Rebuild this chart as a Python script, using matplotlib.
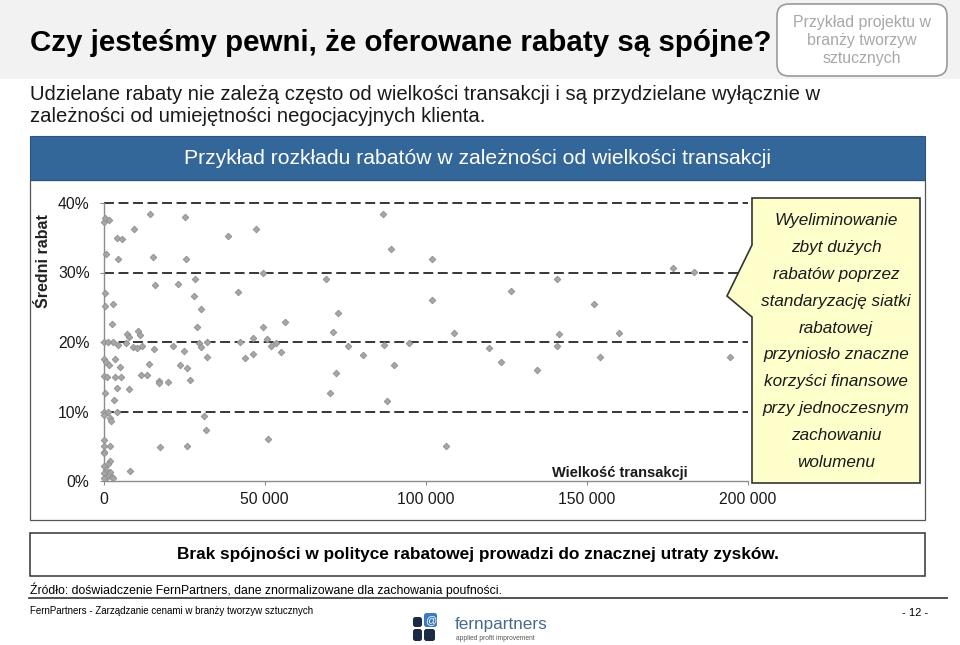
import matplotlib
matplotlib.use("Agg")
import matplotlib.pyplot as plt
from matplotlib.patches import FancyBboxPatch, Rectangle, Polygon
from matplotlib.transforms import Affine2D
from matplotlib.lines import Line2D

plt.rcParams['font.family'] = ['Liberation Sans', 'DejaVu Sans']

# ---------------- data ----------------
transaction_size = [
    300, 400, 1800, 14500, 9500, 4300, 5800, 700, 4600, 15500,
    25200, 38500, 47400, 25700, 49600, 16000, 23100, 500, 500, 2900,
    28300, 28100, 30400, 41700, 2700, 29100, 49600, 7300, 7900, 10600,
    11200, 0, 1300, 2800, 4400, 6900, 9300, 10300, 11900, 15700,
    21700, 24900, 29600, 30200, 32100, 32100, 42500, 43800, 46400, 46300,
    50900, 51900, 53400, 55100, 56500, 200, 700, 3600, 1700, 5000,
    14000, 23800, 25900, 26700, 0, 1000, 3600, 5500, 11700, 13600,
    17100, 17300, 19900, 4300, 8000, 500, 3300, 200, 1400, 4200,
    0, 1900, 2300, 31100, 31900, 300, 0, 2000, 200, 0,
    17600, 25900, 2000, 1500, 0, 8300, 900, 2000, 0, 1000,
    2600, 200, 3100, 51200, 69000, 71400, 72700, 75800, 72200, 70200,
    80600, 86900, 89300, 87200, 90100, 88100, 95000, 102000, 102000, 106200,
    108700, 119600, 123400, 126500, 134700, 140700, 141300, 140900, 152400, 154000,
    159900, 176800, 183400, 194500,
]
avg_discount = [
    37.3, 37.9, 37.5, 38.4, 36.2, 35.0, 34.8, 32.7, 32.0, 32.3,
    38.0, 35.3, 36.2, 32.0, 29.9, 28.2, 28.3, 27.1, 25.2, 25.4,
    29.0, 26.6, 24.7, 27.2, 22.6, 22.1, 22.2, 21.2, 20.7, 21.6,
    21.0, 20.0, 20.0, 20.0, 19.5, 19.8, 19.3, 19.1, 19.4, 19.0,
    19.4, 18.7, 19.9, 19.3, 20.0, 17.8, 20.0, 17.7, 18.3, 20.6,
    20.5, 19.4, 19.8, 18.6, 22.9, 17.5, 17.1, 17.5, 16.7, 16.4,
    16.8, 16.7, 16.3, 14.6, 15.1, 15.0, 15.0, 15.0, 15.2, 15.2,
    14.4, 14.1, 14.2, 13.4, 13.3, 12.7, 11.6, 10.0, 9.9, 9.9,
    9.5, 9.1, 8.7, 9.4, 7.3, 5.9, 5.1, 5.0, 4.2, 4.0,
    4.9, 5.0, 2.9, 2.4, 2.1, 1.4, 1.6, 1.3, 1.1, 0.6,
    0.6, 0.4, 0.4, 6.0, 29.1, 21.5, 24.2, 19.4, 15.5, 12.6,
    18.1, 38.4, 33.4, 19.5, 16.7, 11.5, 19.8, 32.0, 26.0, 5.0,
    21.3, 19.2, 17.1, 27.3, 15.9, 29.1, 21.2, 19.4, 25.4, 17.9,
    21.3, 30.6, 30.1, 17.8,
]
x_ticks = [0, 50000, 100000, 150000, 200000]
x_ticklabels = ['0', '50 000', '100 000', '150 000', '200 000']
y_ticks = [0, 10, 20, 30, 40]
y_ticklabels = ['0%', '10%', '20%', '30%', '40%']

title = 'Czy jesteśmy pewni, że oferowane rabaty są spójne?'
subtitle_lines = ['Udzielane rabaty nie zależą często od wielkości transakcji i są przydzielane wyłącznie w',
                  'zależności od umiejętności negocjacyjnych klienta.']
badge_lines = ['Przykład projektu w', 'branży tworzyw', 'sztucznych']
header = 'Przykład rozkładu rabatów w zależności od wielkości transakcji'
y_label = 'Średni rabat'
x_label = 'Wielkość transakcji'
callout_lines = ['Wyeliminowanie', 'zbyt dużych', 'rabatów poprzez', 'standaryzację siatki',
                 'rabatowej', 'przyniosło znaczne', 'korzyści finansowe', 'przy jednoczesnym',
                 'zachowaniu', 'wolumenu']
conclusion = 'Brak spójności w polityce rabatowej prowadzi do znacznej utraty zysków.'
source = 'Źródło: doświadczenie FernPartners, dane znormalizowane dla zachowania poufności.'
footer = 'FernPartners - Zarządzanie cenami w branży tworzyw sztucznych'
page = '- 12 -'

# ---------------- figure ----------------
W, H = 960, 645
fig = plt.figure(figsize=(9.6, 6.45), dpi=100)
fig.patch.set_facecolor('white')
PX = Affine2D().scale(1, -1).translate(0, H).scale(1 / 100.0) + fig.dpi_scale_trans
renderer = fig.canvas.get_renderer()


def fit(t, target):
    bb = t.get_window_extent(renderer)
    t.set_fontsize(t.get_fontsize() * target / bb.width)
    return t.get_fontsize()


# top grey band
fig.add_artist(Rectangle((0, 0), W, 79, transform=PX, facecolor='#f2f2f2', edgecolor='none', zorder=-5))
t = fig.text(30, 43, title, transform=PX, fontsize=20, fontweight='bold', color='black', va='center', ha='left')
fit(t, 742)

# badge
fig.add_artist(FancyBboxPatch((777, 4), 170, 72, boxstyle='round,pad=0,rounding_size=12', transform=PX,
                              facecolor='white', edgecolor='#9a9a9a', lw=1.2, zorder=1))
bt = fig.text(862, 23, badge_lines[0], transform=PX, fontsize=11, color='#a8a8a8', ha='center', va='center')
bs = fit(bt, 137)
for i, ln in enumerate(badge_lines[1:]):
    fig.text(862, 41 + 18 * i, ln, transform=PX, fontsize=bs, color='#a8a8a8', ha='center', va='center')

# subtitle
st = fig.text(30, 95, subtitle_lines[0], transform=PX, fontsize=14, color='#1a1a1a', ha='left', va='center')
ss = fit(st, 796)
fig.text(30, 117, subtitle_lines[1], transform=PX, fontsize=ss, color='#1a1a1a', ha='left', va='center')

# header bar + chart frame
fig.add_artist(Rectangle((30, 136), 895, 44, transform=PX, facecolor='#336699', edgecolor='#2a5580', lw=0.8, zorder=1))
ht = fig.text(477.5, 158, header, transform=PX, fontsize=13, color='white', ha='center', va='center', zorder=2)
fit(ht, 587)
fig.add_artist(Rectangle((30, 180), 895, 340, transform=PX, facecolor='white', edgecolor='#555555', lw=0.9, zorder=-1))

# y label
fig.text(43, 261, y_label, transform=PX, fontsize=11.5, fontweight='bold', color='#222222',
         rotation=90, ha='center', va='center')

# ---------------- axes ----------------
ax = fig.add_axes([103.5 / W, 1 - 481 / H, (747.7 - 103.5) / W, (481 - 203) / H])
ax.patch.set_alpha(0)
ax.set_xlim(0, 200000)
ax.set_ylim(0, 40)
for yv in y_ticks[1:]:
    ax.axhline(yv, color='black', lw=1.1, linestyle=(0, (6.5, 3.0)), zorder=1, clip_on=False)
ax.plot(transaction_size, avg_discount, linestyle='none', marker='D', ms=3.4,
        mfc='#a6a6a6', mec='#8f8f8f', mew=0.6, clip_on=False, zorder=3)
for s in ['top', 'right']:
    ax.spines[s].set_visible(False)
for s in ['left', 'bottom']:
    ax.spines[s].set_color('#8c8c8c')
    ax.spines[s].set_linewidth(1.0)
ax.set_xticks(x_ticks)
ax.set_xticklabels(x_ticklabels)
ax.set_yticks(y_ticks)
ax.set_yticklabels(y_ticklabels)
ax.tick_params(axis='both', colors='#8c8c8c', labelcolor='#1a1a1a', labelsize=11.3, length=3, width=0.8)
ax.tick_params(axis='y', pad=7)
ax.tick_params(axis='x', pad=5)

fig.text(620, 473, x_label, transform=PX, fontsize=10.5, fontweight='bold', color='#1a1a1a',
         ha='center', va='center')

# callout
fig.add_artist(Polygon([(752, 198), (920, 198), (920, 483), (752, 483), (752, 317), (727, 296), (752, 245)],
                       closed=True, transform=PX, facecolor='#ffffcc', edgecolor='#333333', lw=1.2, zorder=4))
for i, ln in enumerate(callout_lines):
    fig.text(836, 220.5 + 26.9 * i, ln, transform=PX, fontsize=12.3, fontstyle='italic', color='#1a1a1a',
             ha='center', va='center', zorder=5)

# conclusion box
fig.add_artist(Rectangle((30, 533), 895, 43, transform=PX, facecolor='white', edgecolor='#333333', lw=1.1, zorder=1))
ct = fig.text(477.5, 555, conclusion, transform=PX, fontsize=13, fontweight='bold', color='black',
              ha='center', va='center', zorder=2)
fit(ct, 599)

# source + rule
srt = fig.text(30, 590, source, transform=PX, fontsize=10, color='black', ha='left', va='center')
fit(srt, 470)
fig.add_artist(Line2D([29, 947], [598, 598], transform=PX, color='#444444', lw=1.3))
ft = fig.text(30, 611, footer, transform=PX, fontsize=8, color='black', ha='left', va='center')
fit(ft, 288)
fig.text(928, 613, page, transform=PX, fontsize=8, color='black', ha='right', va='center')

# logo
navy = '#1c2b45'
blue = '#3b7bbf'
for (x0, y0, w, h, c) in [(413, 617, 9, 10, navy), (424, 613, 13, 14, blue), (413, 629, 9, 12, navy), (424, 629, 11, 12, navy)]:
    fig.add_artist(FancyBboxPatch((x0, y0), w, h, boxstyle='round,pad=0,rounding_size=2.5', transform=PX,
                                  facecolor=c, edgecolor='none', zorder=2))
fig.text(430.5, 620, '@', transform=PX, fontsize=8, color='white', ha='center', va='center', zorder=3)
lt = fig.text(455, 624, 'fernpartners', transform=PX, fontsize=14, color='#47698c', ha='left', va='center')
fit(lt, 93)
at = fig.text(456, 639, 'applied profit improvement', transform=PX, fontsize=5, color='#555555', ha='left', va='center')
fit(at, 80)

fig.savefig('out.png', dpi=100, facecolor='white')
